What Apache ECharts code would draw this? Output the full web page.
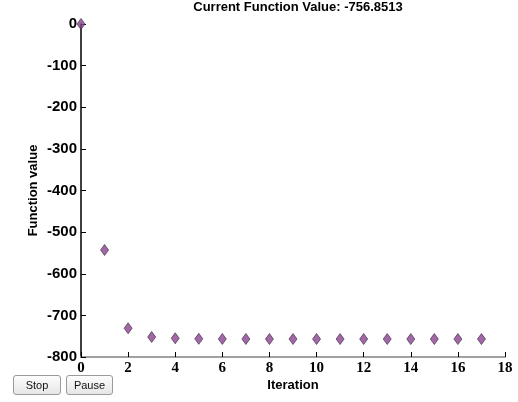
<!DOCTYPE html>
<html>
<head>
<meta charset="utf-8">
<script src="https://cdn.jsdelivr.net/npm/echarts@6/dist/echarts.min.js"></script>
<style>
html,body{margin:0;padding:0;background:#fff;}
#chart{width:518px;height:402px;position:absolute;left:0;top:0;}
.btn{position:absolute;top:375px;height:20px;box-sizing:border-box;border:1px solid #9a9a9a;border-radius:3px;
background:linear-gradient(#fdfdfd,#e6e6e6);font:11px "Liberation Sans",Arial,sans-serif;color:#111;
display:flex;align-items:center;justify-content:center;}
</style>
</head>
<body>
<div id="chart"></div>
<div class="btn" style="left:13px;width:48px;">Stop</div>
<div class="btn" style="left:66px;width:47px;">Pause</div>
<script>
const titleText = 'Current Function Value: -756.8513';
const iterations = [0,1,2,3,4,5,6,7,8,9,10,11,12,13,14,15,16,17];
const functionValues = [0,-543,-731,-752,-755,-756.4,-756.6,-756.7,-756.8,-756.8,-756.8,-756.85,-756.85,-756.85,-756.85,-756.85,-756.85,-756.85];
const xTicks = {min:0, max:18, interval:2};
const yTicks = {min:-800, max:0, interval:100};

const chart = echarts.init(document.getElementById('chart'), null, {renderer:'canvas'});
const narrow = '"Liberation Sans Narrow","Arial Narrow","Liberation Sans",sans-serif';
chart.setOption({
  animation:false,
  backgroundColor:'#fff',
  title:{
    text:titleText, left:293, textAlign:'center', top:-4,
    textStyle:{fontFamily:narrow, fontWeight:'bold', fontSize:13, color:'#000'}
  },
  grid:{left:81, right:13, top:24, bottom:45, containLabel:false},
  xAxis:{
    type:'value', min:xTicks.min, max:xTicks.max, interval:xTicks.interval,
    name:'Iteration', nameLocation:'middle', nameGap:22, nameMoveOverlap:false,
    nameTextStyle:{fontFamily:narrow, fontWeight:'bold', fontSize:13, color:'#000'},
    axisLine:{show:true, onZero:false, lineStyle:{color:'#a0a0a0', width:2}},
    axisTick:{show:true, inside:true, length:5, lineStyle:{color:'#000', width:1}},
    axisLabel:{fontFamily:'"Liberation Serif","DejaVu Serif",serif', fontWeight:'bold', fontSize:15, color:'#000', margin:4},
    splitLine:{show:false}
  },
  yAxis:{
    type:'value', min:yTicks.min, max:yTicks.max, interval:yTicks.interval,
    name:'Function value', nameLocation:'middle', nameGap:41, nameMoveOverlap:false,
    nameTextStyle:{fontFamily:narrow, fontWeight:'bold', fontSize:13, color:'#000'},
    axisLine:{show:true, onZero:false, lineStyle:{color:'#000', width:1.5}},
    axisTick:{show:true, inside:true, length:5, lineStyle:{color:'#000', width:1}},
    axisLabel:{fontFamily:narrow, fontWeight:'bold', fontSize:15, color:'#000', margin:4},
    splitLine:{show:false}
  },
  series:[{
    type:'scatter',
    data:iterations.map((x,i)=>[x, functionValues[i]]),
    symbol:'diamond',
    symbolSize:[8,11],
    itemStyle:{color:'#8a4190', borderColor:'#3a2a3c', borderWidth:0.8},
    z:5
  }]
});
</script>
</body>
</html>
